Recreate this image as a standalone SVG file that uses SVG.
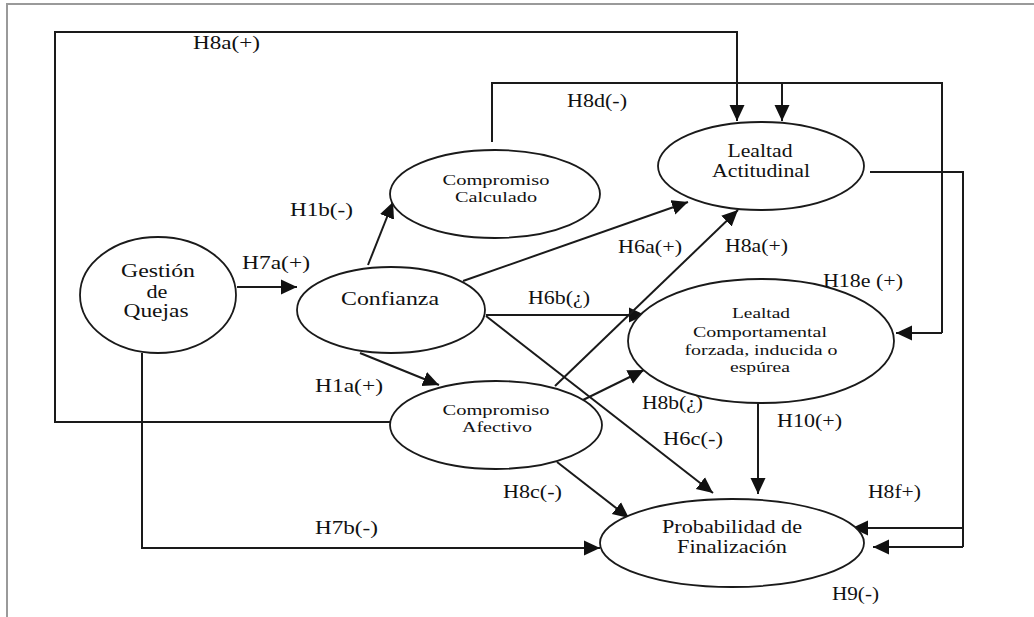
<svg xmlns="http://www.w3.org/2000/svg" width="1034" height="617" viewBox="0 0 1034 617">
<defs>
<style>
.frame{stroke:#9a9a9a;stroke-width:2;fill:none}
.node{fill:#fff;stroke:#1a1a1a;stroke-width:1.8}
.conn{fill:none;stroke:#1a1a1a;stroke-width:2}
.arr{marker-end:url(#ah)}
text{font-family:"Liberation Serif","Times New Roman",serif;fill:#111}
.nt{font-size:18px;text-anchor:middle}
.ns{font-size:15.5px;text-anchor:middle}
.lb{font-size:18px}
</style>
<marker id="ah" markerUnits="userSpaceOnUse" markerWidth="18" markerHeight="16" refX="16" refY="8" orient="auto">
<path d="M0,0.5 L16,8 L0,15.5 z" fill="#111"/>
</marker>
</defs>
<rect width="1034" height="617" fill="#fff"/>
<path class="frame" d="M7,617 V4 H1034"/>

<g id="connectors">
<path class="conn arr" d="M390,422 H55 V32 H737 V121"/>
<path class="conn" d="M492,142 V83 H942 V333"/>
<path class="conn arr" d="M942,333 H896"/>
<path class="conn arr" d="M782,83 V121"/>
<path class="conn" d="M870,172 H963 V547"/>
<path class="conn arr" d="M963,528 H852"/>
<path class="conn arr" d="M963,547 H873"/>
<path class="conn arr" d="M237,287 H297"/>
<path class="conn arr" d="M142,353 V548 H600"/>
<path class="conn arr" d="M368,265 L393,202"/>
<path class="conn arr" d="M463,281 L688,202"/>
<path class="conn arr" d="M486,315 H645"/>
<path class="conn arr" d="M486,316 L713,493"/>
<path class="conn arr" d="M360,353 L439,385"/>
<path class="conn arr" d="M555,386 L738,210"/>
<path class="conn arr" d="M583,400 L644,370"/>
<path class="conn arr" d="M557,462 L629,518"/>
<path class="conn arr" d="M758,403 V494"/>
</g>

<g id="n-gestion">
<ellipse class="node" cx="158" cy="295" rx="78" ry="58"/>
<text class="nt" x="158" y="277" textLength="74" lengthAdjust="spacingAndGlyphs">Gestión</text>
<text class="nt" x="157" y="298" textLength="21" lengthAdjust="spacingAndGlyphs">de</text>
<text class="nt" x="156" y="317" textLength="65" lengthAdjust="spacingAndGlyphs">Quejas</text>
</g>
<g id="n-confianza">
<ellipse class="node" cx="391" cy="310" rx="94" ry="43"/>
<text class="nt" x="390" y="305" textLength="98" lengthAdjust="spacingAndGlyphs">Confianza</text>
</g>
<g id="n-calculado">
<ellipse class="node" cx="495" cy="194" rx="105" ry="44"/>
<text class="ns" x="496" y="185" textLength="107" lengthAdjust="spacingAndGlyphs">Compromiso</text>
<text class="ns" x="496" y="202" textLength="82" lengthAdjust="spacingAndGlyphs">Calculado</text>
</g>
<g id="n-actitudinal">
<ellipse class="node" cx="761" cy="166" rx="103" ry="44"/>
<text class="nt" x="760" y="157" textLength="65" lengthAdjust="spacingAndGlyphs">Lealtad</text>
<text class="nt" x="761" y="177" textLength="98" lengthAdjust="spacingAndGlyphs">Actitudinal</text>
</g>
<g id="n-comportamental">
<ellipse class="node" cx="761" cy="341" rx="133" ry="62"/>
<text class="ns" x="761" y="318" textLength="58" lengthAdjust="spacingAndGlyphs">Lealtad</text>
<text class="ns" x="760" y="337" textLength="134" lengthAdjust="spacingAndGlyphs">Comportamental</text>
<text class="ns" x="761" y="355" textLength="153" lengthAdjust="spacingAndGlyphs">forzada, inducida o</text>
<text class="ns" x="760" y="372" textLength="60" lengthAdjust="spacingAndGlyphs">espúrea</text>
</g>
<g id="n-afectivo">
<ellipse class="node" cx="496" cy="425" rx="106" ry="44"/>
<text class="ns" x="496" y="415" textLength="107" lengthAdjust="spacingAndGlyphs">Compromiso</text>
<text class="ns" x="497" y="432" textLength="70" lengthAdjust="spacingAndGlyphs">Afectivo</text>
</g>
<g id="n-probabilidad">
<ellipse class="node" cx="732" cy="543" rx="132" ry="44"/>
<text class="nt" x="732" y="533" textLength="140" lengthAdjust="spacingAndGlyphs">Probabilidad de</text>
<text class="nt" x="732" y="553" textLength="110" lengthAdjust="spacingAndGlyphs">Finalización</text>
</g>

<g id="labels">
<text class="lb" x="193" y="49" textLength="67" lengthAdjust="spacingAndGlyphs">H8a(+)</text>
<text class="lb" x="567" y="107" textLength="60" lengthAdjust="spacingAndGlyphs">H8d(-)</text>
<text class="lb" x="290" y="216" textLength="63" lengthAdjust="spacingAndGlyphs">H1b(-)</text>
<text class="lb" x="242" y="269" textLength="68" lengthAdjust="spacingAndGlyphs">H7a(+)</text>
<text class="lb" x="618" y="253" textLength="64" lengthAdjust="spacingAndGlyphs">H6a(+)</text>
<text class="lb" x="725" y="252" textLength="63" lengthAdjust="spacingAndGlyphs">H8a(+)</text>
<text class="lb" x="823" y="287" textLength="80" lengthAdjust="spacingAndGlyphs">H18e (+)</text>
<text class="lb" x="528" y="304" textLength="62" lengthAdjust="spacingAndGlyphs">H6b(¿)</text>
<text class="lb" x="315" y="392" textLength="68" lengthAdjust="spacingAndGlyphs">H1a(+)</text>
<text class="lb" x="642" y="409" textLength="61" lengthAdjust="spacingAndGlyphs">H8b(¿)</text>
<text class="lb" x="777" y="427" textLength="65" lengthAdjust="spacingAndGlyphs">H10(+)</text>
<text class="lb" x="663" y="445" textLength="60" lengthAdjust="spacingAndGlyphs">H6c(-)</text>
<text class="lb" x="503" y="498" textLength="59" lengthAdjust="spacingAndGlyphs">H8c(-)</text>
<text class="lb" x="868" y="498" textLength="53" lengthAdjust="spacingAndGlyphs">H8f+)</text>
<text class="lb" x="315" y="534" textLength="63" lengthAdjust="spacingAndGlyphs">H7b(-)</text>
<text class="lb" x="832" y="600" textLength="47" lengthAdjust="spacingAndGlyphs">H9(-)</text>
</g>
</svg>
